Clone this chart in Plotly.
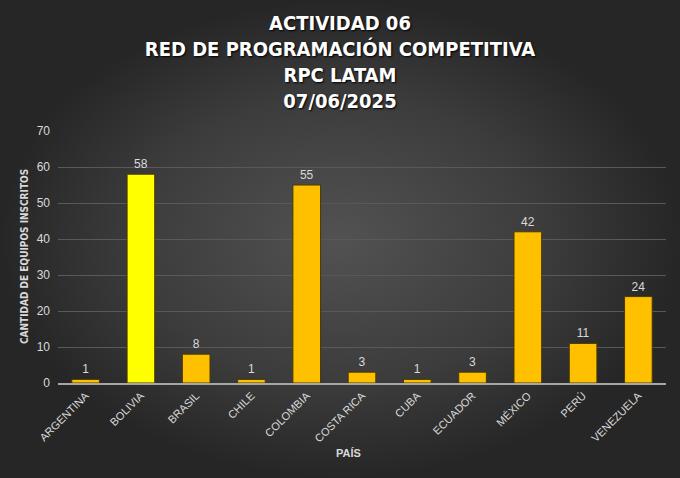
import plotly.graph_objects as go

# Data
paises = ["ARGENTINA", "BOLIVIA", "BRASIL", "CHILE", "COLOMBIA", "COSTA RICA",
          "CUBA", "ECUADOR", "MÉXICO", "PERÚ", "VENEZUELA"]
equipos = [1, 58, 8, 1, 55, 3, 1, 3, 42, 11, 24]
colores = ["#FFC000", "#FFFF00", "#FFC000", "#FFC000", "#FFC000", "#FFC000",
           "#FFC000", "#FFC000", "#FFC000", "#FFC000", "#FFC000"]
y_ticks = [0, 10, 20, 30, 40, 50, 60, 70]

W, H = 680, 478
gris = "#d9d9d9"

fig = go.Figure()

# fondo con degradado radial (ocupa todo el papel)
fig.add_trace(go.Scatter(x=[0, 1, 1, 0, 0], y=[0, 0, 1, 1, 0],
                         mode="lines", line=dict(width=0),
                         fill="toself",
                         fillgradient=dict(type="radial",
                                           colorscale=[[0, "#525252"], [0.6, "#3c3c3c"], [1, "#262626"]]),
                         hoverinfo="skip", showlegend=False,
                         xaxis="x", yaxis="y"))

fig.add_trace(go.Bar(x=paises, y=equipos,
                     marker=dict(color=colores, line=dict(color="#4a3a00", width=1)),
                     text=equipos, textposition="outside",
                     textfont=dict(color=gris, size=12, family="Liberation Sans"),
                     cliponaxis=False,
                     showlegend=False,
                     xaxis="x2", yaxis="y2"))

fig.update_layout(
    width=W, height=H,
    margin=dict(l=0, r=0, t=0, b=0),
    paper_bgcolor="#2b2b2b",
    plot_bgcolor="rgba(0,0,0,0)",
    title=dict(text="ACTIVIDAD 06<br>RED DE PROGRAMACIÓN COMPETITIVA<br>RPC LATAM<br>07/06/2025",
               x=0.5, xanchor="center", y=0.937, yanchor="top",
               font=dict(family="DejaVu Sans Condensed", size=20, color="white",
                         weight="bold", shadow="1px 1px 2px #000")),
    xaxis=dict(domain=[0, 1], range=[0, 1], visible=False, fixedrange=True),
    yaxis=dict(domain=[0, 1], range=[0, 1], visible=False, fixedrange=True),
    xaxis2=dict(domain=[58 / W, 666 / W], anchor="y2", automargin=False,
                tickangle=-45, tickfont=dict(color=gris, size=11, family="Liberation Sans"),
                showline=True, linecolor="#a6a6a6", linewidth=2,
                showgrid=False, ticks=""),
    yaxis2=dict(domain=[95 / H, 347 / H], anchor="x2", automargin=False,
                range=[0, 70], tickvals=y_ticks, ticklabelstandoff=7,
                tickfont=dict(color=gris, size=12, family="Liberation Sans"),
                gridcolor="#595959", gridwidth=1, zeroline=False),
    annotations=[
        dict(text="<b>PAÍS</b>", x=348 / W, y=1 - 453 / H, xref="paper", yref="paper",
             xanchor="center", yanchor="middle",
             showarrow=False, font=dict(color=gris, size=11, family="Liberation Sans")),
        dict(text="<b>CANTIDAD DE EQUIPOS INSCRITOS</b>", x=24 / W, y=1 - 257 / H,
             xref="paper", yref="paper", textangle=-90, showarrow=False,
             xanchor="center", yanchor="middle",
             font=dict(color=gris, size=10, family="DejaVu Sans Condensed")),
    ],
    bargap=0.5,
)

fig.write_html("out.html", config={"displayModeBar": False},
               post_script="document.body.style.margin='0';document.body.style.overflow='hidden';")
